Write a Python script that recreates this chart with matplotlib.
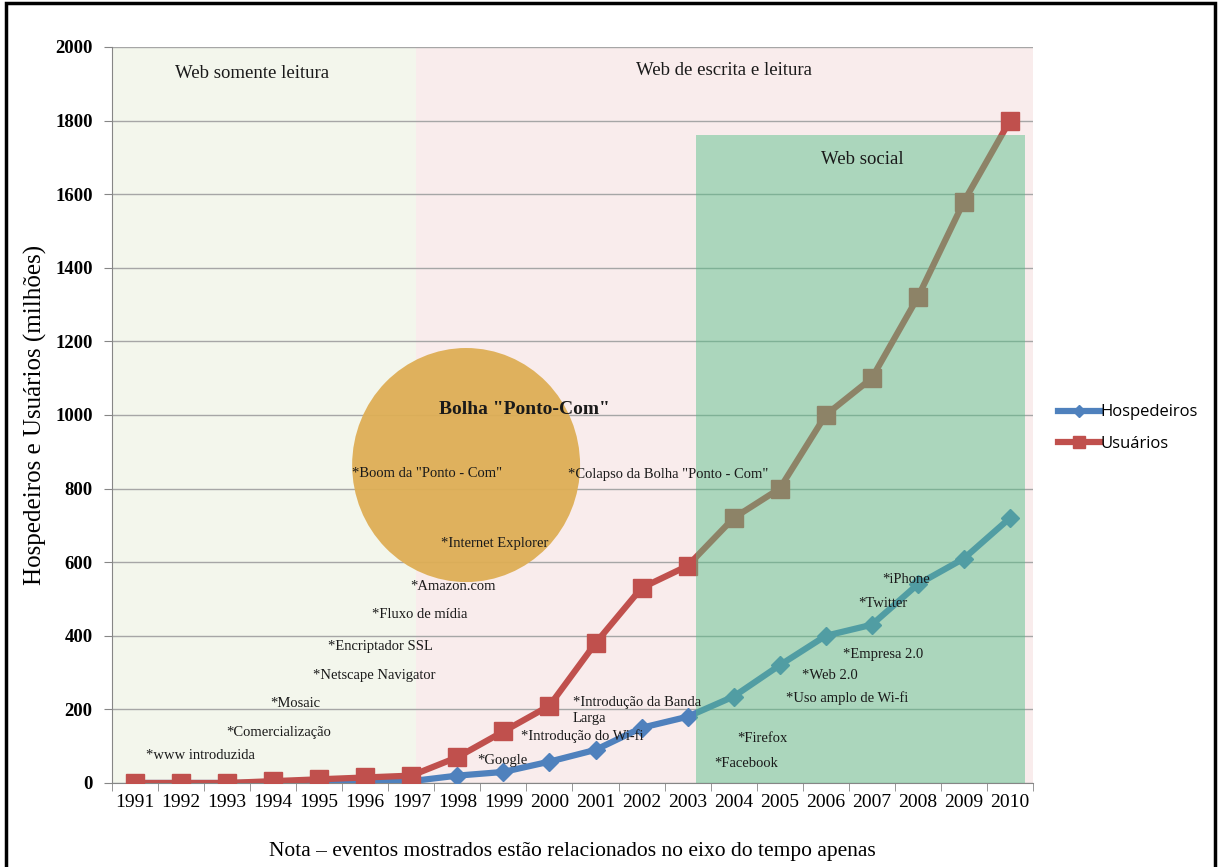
import numpy as np
import matplotlib.pyplot as plt
from matplotlib.patches import Rectangle, Ellipse

# dados
anos = [1991, 1992, 1993, 1994, 1995, 1996, 1997, 1998, 1999, 2000,
        2001, 2002, 2003, 2004, 2005, 2006, 2007, 2008, 2009, 2010]
hospedeiros = [0, 0, 0, 1, 2, 3, 5, 20, 30, 58, 90, 150, 180, 235,
               320, 400, 430, 540, 610, 720]
usuarios = [0, 0, 0, 5, 10, 15, 20, 70, 140, 210, 380, 530, 590, 720,
            800, 1000, 1100, 1320, 1580, 1800]

# eventos (texto, x em indice de ano, y)
eventos = [
    ("*www introduzida", 0.24, 76),
    ("*Comercialização", 1.98, 136),
    ("*Mosaic", 2.93, 215),
    ("*Netscape Navigator", 3.87, 293),
    ("*Encriptador SSL", 4.19, 372),
    ("*Fluxo de mídia", 5.15, 457),
    ("*Amazon.com", 5.97, 533),
    ("*Internet Explorer", 6.65, 652),
    ('*Boom da "Ponto - Com"', 4.71, 842),
    ('*Colapso da Bolha "Ponto - Com"', 9.40, 837),
    ("*Google", 7.43, 62),
    ("*Introdução do Wi-fi", 8.38, 128),
    ("*Introdução da Banda\nLarga", 9.51, 196),
    ("*Facebook", 12.57, 52),
    ("*Firefox", 13.07, 120),
    ("*Uso amplo de Wi-fi", 14.14, 231),
    ("*Web 2.0", 14.48, 291),
    ("*Empresa 2.0", 15.37, 348),
    ("*Twitter", 15.70, 489),
    ("*iPhone", 16.22, 552),
]

serif = "Liberation Serif"
x = np.arange(len(anos))

fig = plt.figure(figsize=(12.2, 8.67), dpi=100)
ax = fig.add_axes([0.0918, 0.0969, 0.7549, 0.8489])

# fundos
ax.add_patch(Rectangle((-0.5, 0), 6.6, 2000, facecolor="#F3F6EC", edgecolor="none", zorder=0))
ax.add_patch(Rectangle((6.1, 0), 13.4, 2000, facecolor="#F9ECEC", edgecolor="none", zorder=0))

ax.set_axisbelow(True)
ax.yaxis.grid(True, color="#A6A6A6", lw=1.0, zorder=1)

ax.plot(x, hospedeiros, color="#4F81BD", lw=4.5, marker="D", ms=9,
        label="Hospedeiros", zorder=3)
ax.plot(x, usuarios, color="#C0504D", lw=4.5, marker="s", ms=13,
        label="Usuários", zorder=4)

# web social (sobre as linhas)
ax.add_patch(Rectangle((12.18, 0), 7.15, 1761, facecolor="#55BE86", alpha=0.47,
                       edgecolor="none", zorder=5))
# bolha
ax.add_patch(Ellipse((7.19, 864), 4.95, 636, facecolor="#DEAE55", alpha=0.95,
                     edgecolor="none", zorder=5))

for txt, ex, ey in eventos:
    ax.text(ex, ey, txt, fontsize=10.5, family=serif, ha="left", va="center",
            color="#1a1a1a", zorder=6, linespacing=1.3)

ax.text(2.54, 1929, "Web somente leitura", fontsize=13.5, family=serif,
        ha="center", va="center", color="#1a1a1a", zorder=6)
ax.text(12.79, 1937, "Web de escrita e leitura", fontsize=13.5, family=serif,
        ha="center", va="center", color="#1a1a1a", zorder=6)
ax.text(15.79, 1693, "Web social", fontsize=13.5, family=serif,
        ha="center", va="center", color="#1a1a1a", zorder=6)
ax.text(8.45, 1014, 'Bolha "Ponto-Com"', fontsize=14, family=serif, weight="bold",
        ha="center", va="center", color="#1a1a1a", zorder=6)

ax.set_xlim(-0.5, len(anos) - 0.5)
ax.set_ylim(0, 2000)
ax.set_yticks(np.arange(0, 2001, 200))
ax.set_xticks(x)
ax.set_xticklabels([str(a) for a in anos], family=serif, fontsize=14)
ax.set_xticks(np.arange(-0.5, len(anos), 1), minor=True)
ax.tick_params(axis="x", which="major", length=0, pad=8)
ax.tick_params(axis="x", which="minor", length=6, color="#868686")
ax.tick_params(axis="y", length=6, color="#868686", pad=8)
for lab in ax.get_yticklabels():
    lab.set_family(serif)
    lab.set_fontsize(13.5)
    lab.set_weight("bold")

for s in ["top", "right"]:
    ax.spines[s].set_visible(False)
for s in ["left", "bottom"]:
    ax.spines[s].set_color("#868686")

ax.set_ylabel("Hospedeiros e Usuários (milhões)", family=serif, fontsize=18, labelpad=6)
ax.set_xlabel("Nota – eventos mostrados estão relacionados no eixo do tempo apenas",
              family=serif, fontsize=15.5, labelpad=22)

fig.legend(loc="center left", bbox_to_anchor=(1058 / 1220, 1 - 428 / 867),
           frameon=False, handlelength=2.5, handletextpad=0.05, labelspacing=0.9,
           borderpad=0, borderaxespad=0,
           prop={"family": "Open Sans", "size": 12}, markerscale=0.7)

# moldura
fig.add_artist(Rectangle((0.005, -0.02), 0.991, 1.017, transform=fig.transFigure,
                         fill=False, edgecolor="black", lw=2.5))

fig.savefig("out.png", dpi=100)
